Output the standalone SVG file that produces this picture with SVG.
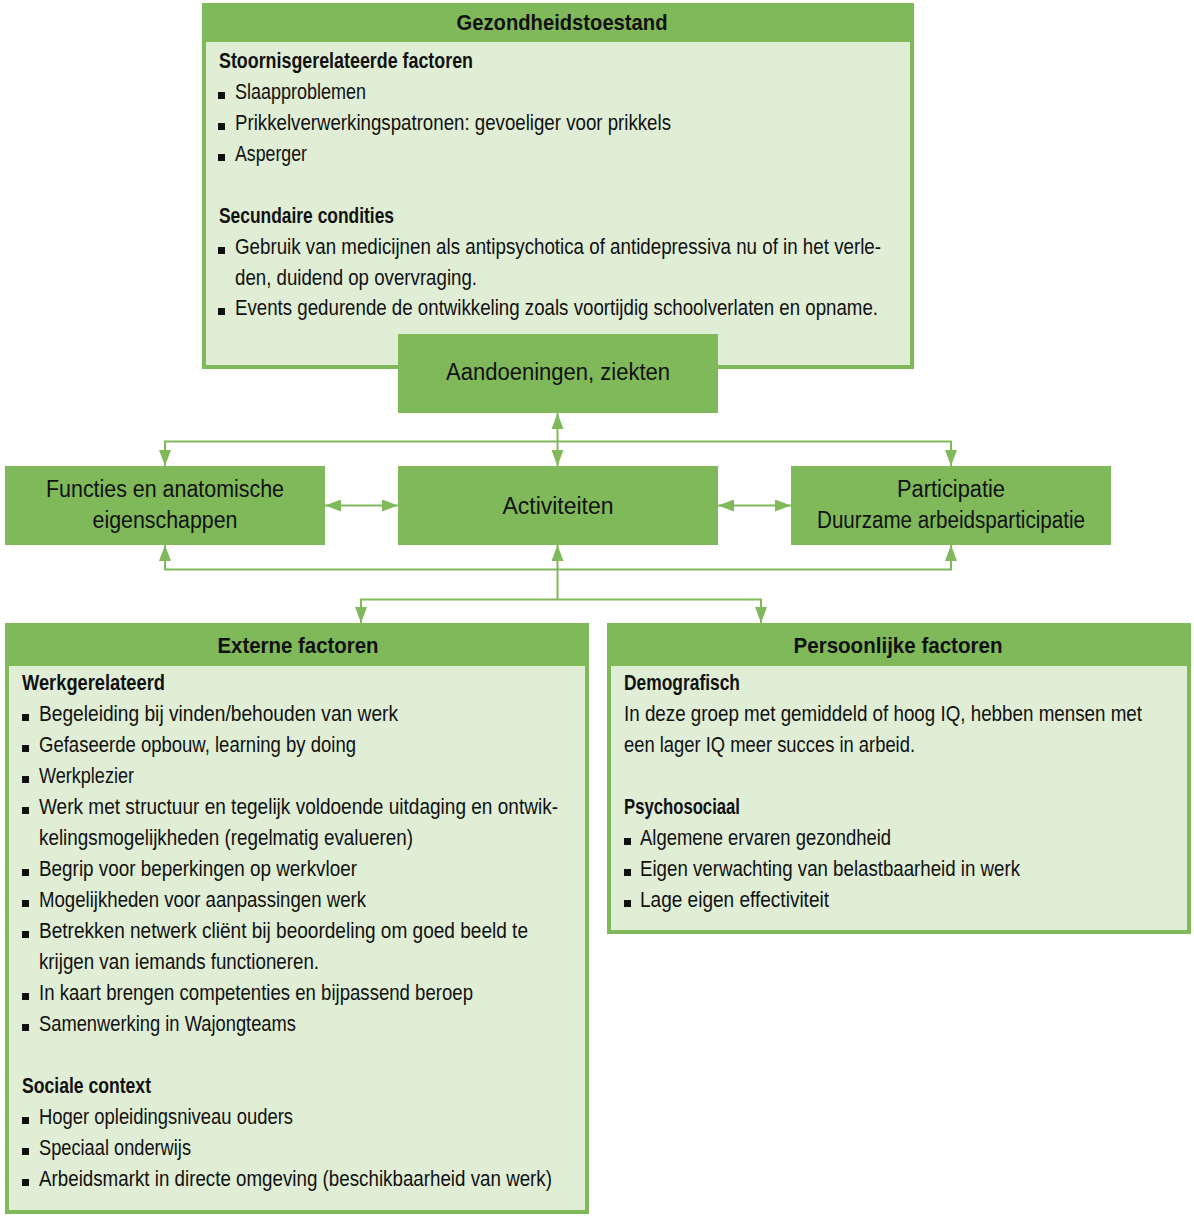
<svg xmlns="http://www.w3.org/2000/svg" width="1194" height="1217" viewBox="0 0 1194 1217">
<defs>
<style>
text{font-family:"Liberation Sans Narrow","Liberation Sans",Arial,sans-serif;fill:#111;}
.h{font-size:22.5px;font-weight:bold;text-anchor:middle;}
.n{font-size:23.5px;text-anchor:middle;}
.b{font-size:21.5px;font-weight:bold;}
.t{font-size:21.5px;}
.g{fill:#80b95a;}
.l{fill:#e0eed6;}
.c{fill:none;stroke:#80b95a;stroke-width:2;}
.sq{fill:#111;}
</style>
<marker id="ah" viewBox="0 0 16 12" refX="16" refY="6" markerWidth="16" markerHeight="12" markerUnits="userSpaceOnUse" orient="auto-start-reverse">
<path d="M0,0 L16,6 L0,12 Z" fill="#80b95a"/>
</marker>
</defs>
<rect width="1194" height="1217" fill="#fff"/>

<g id="connectors">
<path class="c" d="M557.5,413 V466" marker-start="url(#ah)" marker-end="url(#ah)"/>
<path class="c" d="M165,466 V441.5 H951 V466" marker-start="url(#ah)" marker-end="url(#ah)"/>
<path class="c" d="M165,545 V569.5 H951 V545" marker-start="url(#ah)" marker-end="url(#ah)"/>
<path class="c" d="M557.5,599.5 V545" marker-end="url(#ah)"/>
<path class="c" d="M361,623 V599.5 H761 V623" marker-start="url(#ah)" marker-end="url(#ah)"/>
<path class="c" d="M325,505.5 H398" marker-start="url(#ah)" marker-end="url(#ah)"/>
<path class="c" d="M718,505.5 H791" marker-start="url(#ah)" marker-end="url(#ah)"/>
</g>

<g id="gezondheidstoestand">
<rect class="g" x="202" y="3" width="712" height="366"/>
<rect class="l" x="206" y="42" width="704" height="323"/>
<text class="h" x="562" y="30" textLength="211" lengthAdjust="spacingAndGlyphs">Gezondheidstoestand</text>
<text class="b" x="219" y="68" textLength="254" lengthAdjust="spacingAndGlyphs">Stoornisgerelateerde factoren</text>
<rect class="sq" x="218" y="92" width="7" height="7"/>
<text class="t" x="235" y="99" textLength="131" lengthAdjust="spacingAndGlyphs">Slaapproblemen</text>
<rect class="sq" x="218" y="123" width="7" height="7"/>
<text class="t" x="235" y="130" textLength="436" lengthAdjust="spacingAndGlyphs">Prikkelverwerkingspatronen: gevoeliger voor prikkels</text>
<rect class="sq" x="218" y="154" width="7" height="7"/>
<text class="t" x="235" y="161" textLength="72" lengthAdjust="spacingAndGlyphs">Asperger</text>
<text class="b" x="219" y="223" textLength="175" lengthAdjust="spacingAndGlyphs">Secundaire condities</text>
<rect class="sq" x="218" y="247" width="7" height="7"/>
<text class="t" x="235" y="254" textLength="646" lengthAdjust="spacingAndGlyphs">Gebruik van medicijnen als antipsychotica of antidepressiva nu of in het verle-</text>
<text class="t" x="235" y="285" textLength="242" lengthAdjust="spacingAndGlyphs">den, duidend op overvraging.</text>
<rect class="sq" x="218" y="308" width="7" height="7"/>
<text class="t" x="235" y="315" textLength="643" lengthAdjust="spacingAndGlyphs">Events gedurende de ontwikkeling zoals voortijdig schoolverlaten en opname.</text>
</g>

<g id="aandoeningen">
<rect class="g" x="398" y="334" width="320" height="79"/>
<text class="n" x="558" y="380" textLength="224" lengthAdjust="spacingAndGlyphs">Aandoeningen, ziekten</text>
</g>

<g id="functies">
<rect class="g" x="5" y="466" width="320" height="79"/>
<text class="n" x="165" y="497" textLength="238" lengthAdjust="spacingAndGlyphs">Functies en anatomische</text>
<text class="n" x="165" y="528" textLength="145" lengthAdjust="spacingAndGlyphs">eigenschappen</text>
</g>

<g id="activiteiten">
<rect class="g" x="398" y="466" width="320" height="79"/>
<text class="n" x="558" y="514" textLength="111" lengthAdjust="spacingAndGlyphs">Activiteiten</text>
</g>

<g id="participatie">
<rect class="g" x="791" y="466" width="320" height="79"/>
<text class="n" x="951" y="497" textLength="108" lengthAdjust="spacingAndGlyphs">Participatie</text>
<text class="n" x="951" y="528" textLength="268" lengthAdjust="spacingAndGlyphs">Duurzame arbeidsparticipatie</text>
</g>

<g id="externe">
<rect class="g" x="5" y="623" width="584" height="591"/>
<rect class="l" x="9" y="666" width="576" height="544"/>
<text class="h" x="298" y="653" textLength="161" lengthAdjust="spacingAndGlyphs">Externe factoren</text>
<text class="b" x="22" y="690" textLength="143" lengthAdjust="spacingAndGlyphs">Werkgerelateerd</text>
<rect class="sq" x="22" y="714" width="7" height="7"/>
<text class="t" x="39" y="721" textLength="359" lengthAdjust="spacingAndGlyphs">Begeleiding bij vinden/behouden van werk</text>
<rect class="sq" x="22" y="745" width="7" height="7"/>
<text class="t" x="39" y="752" textLength="317" lengthAdjust="spacingAndGlyphs">Gefaseerde opbouw, learning by doing</text>
<rect class="sq" x="22" y="776" width="7" height="7"/>
<text class="t" x="39" y="783" textLength="95" lengthAdjust="spacingAndGlyphs">Werkplezier</text>
<rect class="sq" x="22" y="807" width="7" height="7"/>
<text class="t" x="39" y="814" textLength="519" lengthAdjust="spacingAndGlyphs">Werk met structuur en tegelijk voldoende uitdaging en ontwik-</text>
<text class="t" x="39" y="845" textLength="374" lengthAdjust="spacingAndGlyphs">kelingsmogelijkheden (regelmatig evalueren)</text>
<rect class="sq" x="22" y="869" width="7" height="7"/>
<text class="t" x="39" y="876" textLength="318" lengthAdjust="spacingAndGlyphs">Begrip voor beperkingen op werkvloer</text>
<rect class="sq" x="22" y="900" width="7" height="7"/>
<text class="t" x="39" y="907" textLength="327" lengthAdjust="spacingAndGlyphs">Mogelijkheden voor aanpassingen werk</text>
<rect class="sq" x="22" y="931" width="7" height="7"/>
<text class="t" x="39" y="938" textLength="489" lengthAdjust="spacingAndGlyphs">Betrekken netwerk cliënt bij beoordeling om goed beeld te</text>
<text class="t" x="39" y="969" textLength="280" lengthAdjust="spacingAndGlyphs">krijgen van iemands functioneren.</text>
<rect class="sq" x="22" y="993" width="7" height="7"/>
<text class="t" x="39" y="1000" textLength="434" lengthAdjust="spacingAndGlyphs">In kaart brengen competenties en bijpassend beroep</text>
<rect class="sq" x="22" y="1024" width="7" height="7"/>
<text class="t" x="39" y="1031" textLength="257" lengthAdjust="spacingAndGlyphs">Samenwerking in Wajongteams</text>
<text class="b" x="22" y="1093" textLength="129" lengthAdjust="spacingAndGlyphs">Sociale context</text>
<rect class="sq" x="22" y="1117" width="7" height="7"/>
<text class="t" x="39" y="1124" textLength="254" lengthAdjust="spacingAndGlyphs">Hoger opleidingsniveau ouders</text>
<rect class="sq" x="22" y="1148" width="7" height="7"/>
<text class="t" x="39" y="1155" textLength="152" lengthAdjust="spacingAndGlyphs">Speciaal onderwijs</text>
<rect class="sq" x="22" y="1179" width="7" height="7"/>
<text class="t" x="39" y="1186" textLength="513" lengthAdjust="spacingAndGlyphs">Arbeidsmarkt in directe omgeving (beschikbaarheid van werk)</text>
</g>

<g id="persoonlijke">
<rect class="g" x="607" y="623" width="584" height="311"/>
<rect class="l" x="611" y="666" width="576" height="264"/>
<text class="h" x="898" y="653" textLength="209" lengthAdjust="spacingAndGlyphs">Persoonlijke factoren</text>
<text class="b" x="624" y="690" textLength="116" lengthAdjust="spacingAndGlyphs">Demografisch</text>
<text class="t" x="624" y="721" textLength="518" lengthAdjust="spacingAndGlyphs">In deze groep met gemiddeld of hoog IQ, hebben mensen met</text>
<text class="t" x="624" y="752" textLength="291" lengthAdjust="spacingAndGlyphs">een lager IQ meer succes in arbeid.</text>
<text class="b" x="624" y="814" textLength="116" lengthAdjust="spacingAndGlyphs">Psychosociaal</text>
<rect class="sq" x="624" y="838" width="7" height="7"/>
<text class="t" x="640" y="845" textLength="251" lengthAdjust="spacingAndGlyphs">Algemene ervaren gezondheid</text>
<rect class="sq" x="624" y="869" width="7" height="7"/>
<text class="t" x="640" y="876" textLength="380" lengthAdjust="spacingAndGlyphs">Eigen verwachting van belastbaarheid in werk</text>
<rect class="sq" x="624" y="900" width="7" height="7"/>
<text class="t" x="640" y="907" textLength="189" lengthAdjust="spacingAndGlyphs">Lage eigen effectiviteit</text>
</g>
</svg>
